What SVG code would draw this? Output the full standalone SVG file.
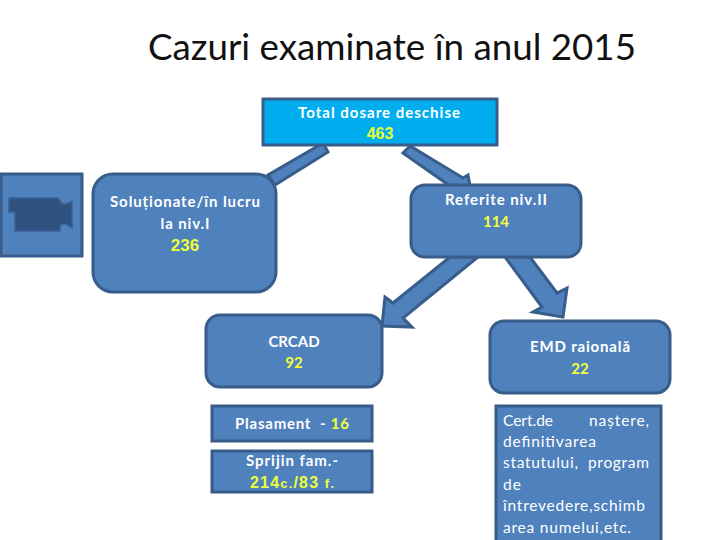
<svg xmlns="http://www.w3.org/2000/svg" width="720" height="540" viewBox="0 0 720 540">
<style>
.b{fill:#4f81bd;stroke:#385d8a;stroke-width:3;stroke-linejoin:miter}
.t{font-family:"Lato","Open Sans",sans-serif;font-size:15px;font-weight:700;fill:#fff;text-anchor:middle}
.y{font-family:"Lato","Open Sans",sans-serif;font-size:15px;font-weight:700;fill:#f2ff3a;text-anchor:middle}
.n{font-family:"Liberation Sans",Arial,sans-serif;font-size:17px;font-weight:700;fill:#eaff3a;text-anchor:middle}
.l{font-family:"Lato","Open Sans",sans-serif;font-size:15.5px;font-weight:400;fill:#fff}
</style>
<rect width="720" height="540" fill="#fff"/>
<text x="392" y="60" font-family="Lato,'Open Sans',sans-serif" font-size="36" fill="#111" text-anchor="middle" textLength="488" lengthAdjust="spacingAndGlyphs">Cazuri examinate în anul 2015</text>
<g id="connectors">
<polygon class="b" points="323,143 328,152 275,185 268,175"/>
<polygon class="b" points="410,146 403,153 450,186 470,186 468,175 463,178"/>
<polygon class="b" points="450,257 478,257 403,318 412,327 382,326 385,297 393,303"/>
<polygon class="b" points="505,257 530,257 557,293 567,288 563,317 533,312 542,307"/>
</g>
<g id="camera">
<rect class="b" x="1" y="174" width="81" height="82"/>
<path d="M9,198H58L62,204H66L72,201V228L66,224H62L60,227V231H15V212H9Z" fill="#2f5180" stroke="#3a6296" stroke-width="1.5"/>
</g>
<g id="total">
<rect class="b" x="263" y="99" width="234" height="46" style="fill:#00aeef"/>
<text class="t" x="379" y="118" textLength="162">Total dosare deschise</text>
<text class="n" x="380" y="139" style="font-size:16px">463</text>
</g>
<g id="solutionate">
<rect class="b" x="93" y="174" width="183" height="118" rx="20"/>
<text class="t" x="185" y="207" textLength="150">Soluționate/în lucru</text>
<text class="t" x="185" y="229" textLength="49">la niv.I</text>
<text class="n" x="185" y="251">236</text>
</g>
<g id="referite">
<rect class="b" x="411" y="185" width="170" height="72" rx="14"/>
<text class="t" x="496" y="205" textLength="102">Referite niv.II</text>
<text class="y" x="496" y="227">114</text>
</g>
<g id="crcad">
<rect class="b" x="206" y="315" width="176" height="72" rx="14"/>
<text class="t" x="294" y="347">CRCAD</text>
<text class="y" x="294" y="368">92</text>
</g>
<g id="emd">
<rect class="b" x="490" y="321" width="180" height="72" rx="14"/>
<text class="t" x="580" y="352" textLength="100">EMD raională</text>
<text class="y" x="580" y="374">22</text>
</g>
<g id="plasament">
<rect class="b" x="212" y="406" width="160" height="35"/>
<text class="t" x="292" y="429" textLength="114" xml:space="preserve">Plasament  - <tspan style="fill:#f2ff3a">16</tspan></text>
</g>
<g id="sprijin">
<rect class="b" x="212" y="451" width="160" height="41"/>
<text class="t" x="292" y="466" textLength="92">Sprijin fam.-</text>
<text class="n" x="292" y="488" textLength="84" style="font-size:16px">214<tspan font-size="13">c.</tspan>/83 <tspan font-size="13">f.</tspan></text>
</g>
<g id="detalii">
<rect class="b" x="496" y="406" width="165" height="136"/>
<text class="l" x="503" y="426" textLength="50">Cert.de</text>
<text class="l" x="589" y="426" textLength="60">naștere,</text>
<text class="l" x="503" y="447" textLength="93">definitivarea</text>
<text class="l" x="503" y="468" textLength="146" xml:space="preserve">statutului,  program</text>
<text class="l" x="503" y="490" textLength="18">de</text>
<text class="l" x="503" y="511" textLength="142">întrevedere,schimb</text>
<text class="l" x="503" y="533" textLength="128">area numelui,etc.</text>
</g>
</svg>
